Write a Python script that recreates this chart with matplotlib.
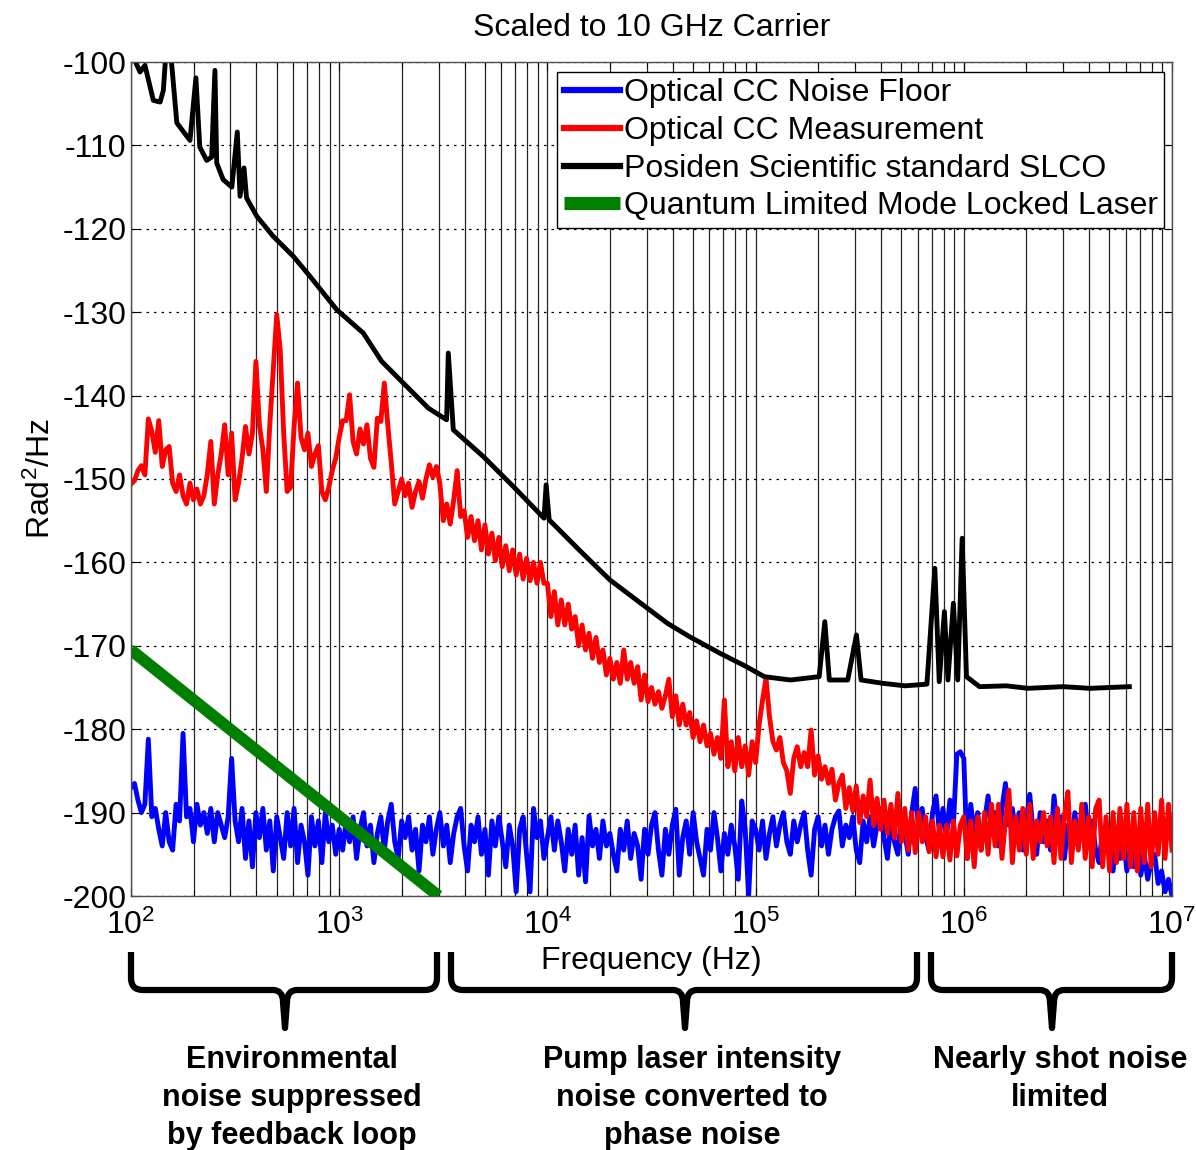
import numpy as np
import matplotlib
matplotlib.use('Agg')
import matplotlib.pyplot as plt
from matplotlib.path import Path
from matplotlib.patches import PathPatch

plt.rcParams['font.family'] = ['Liberation Sans', 'DejaVu Sans']
plt.rcParams['axes.unicode_minus'] = False
plt.rcParams['mathtext.fontset'] = 'custom'
plt.rcParams['mathtext.rm'] = 'Liberation Sans'
plt.rcParams['mathtext.it'] = 'Liberation Sans:italic'

# noise floor, one list per decade (100 Hz .. 10 MHz), dB rad^2/Hz
floor_dec = [
    [-187, -186.5, -188.5, -190, -189, -181.2, -190.5, -189.5, -192, -194,
     -190, -193.5, -194.5, -189, -191, -180.5, -190.5, -189.5, -193.5, -189,
     -191.5, -190, -192.5, -189.5, -193.5, -190, -191.5, -193, -190.5, -183.5,
     -191, -193.5, -189.5, -195.5, -191, -196.5, -190, -193, -189.5, -194.5,
     -191, -197, -190.5, -193, -195.5, -190, -194, -189.5, -196, -191.5,
     -193.5, -197.5, -190.5, -194, -191, -196, -190, -193.5, -191.5, -195],
    [-192, -194.5, -191, -193.5, -190.5, -195.5, -192, -190, -194, -191.5,
     -196, -192.5, -190.5, -194.5, -191, -189, -193.5, -195.5, -191, -193,
     -190.5, -194.5, -192, -197, -191.5, -193.5, -190.5, -195, -192, -190,
     -194, -191.5, -196, -192.5, -190.5, -189.5, -194, -197, -191.5, -193.5,
     -190.5, -195, -192, -197.5, -191, -194, -190.5, -193.5, -196.5, -191.5,
     -194, -199.5, -192, -190.5, -195, -199.5, -189.5, -193, -191, -195.5],
    [-193, -190.5, -194.5, -191, -193.5, -197, -192, -195, -191.5, -197.5,
     -193, -198.3, -190.4, -194, -192, -195.5, -191, -194, -192.5, -195,
     -197, -192, -194.5, -191, -195.5, -192.5, -194, -198, -192, -195,
     -191.5, -190, -194.5, -197.5, -192, -195, -191.5, -189.6, -197.5, -193,
     -191, -195, -190, -193.5, -195.5, -197.5, -192, -194.5, -190, -193,
     -197, -192.5, -195, -191.5, -194, -198, -188.6, -192, -200, -191],
    [-192, -194.5, -191, -195.5, -192.5, -190.5, -194, -191.5, -190, -193.5,
     -195, -191, -193.5, -191.5, -190, -194.5, -197.5, -192, -190.5, -194,
     -191.5, -195, -192, -190.5, -189.8, -194, -191.5, -193, -190.5, -194.5,
     -196, -191, -193.5, -190.5, -194, -191.5, -189.5, -193, -195.5, -191,
     -193.5, -195, -190.5, -192.5, -195, -190, -187.1, -192, -189.5, -193,
     -194.5, -190, -188, -192.5, -189.5, -193, -188.5, -191.5, -183, -182.7],
    [-183.5, -195.5, -189, -192.5, -190, -194.5, -191, -188, -192, -190,
     -194, -189.5, -186.5, -191.5, -189.5, -193, -190, -194.5, -191, -187.8,
     -192.5, -195, -190, -193.5, -191, -194.5, -188, -192, -190.5, -195.5,
     -191.5, -193.5, -190, -194, -191.5, -189, -193, -191, -194.5, -196,
     -192, -194.5, -192.5, -197, -193.5, -195.5, -193, -197, -194.5, -196.5,
     -192.5, -197.5, -195, -198, -196, -195, -198.5, -197, -199.5, -198,
     -200],
]

# measurement, same decade layout
meas_dec = [
    [-150.6, -150.2, -149, -148.4, -149.5, -142.8, -144.3, -146.8, -143, -148.5,
     -146.5, -146.1, -150.5, -151.5, -149.5, -152, -153, -150.5, -152.5, -151.2,
     -153, -152, -149.4, -145.5, -153, -149.5, -147, -143.5, -149.5, -144.5,
     -152.5, -150.5, -147.5, -143.7, -147, -144.5, -135.9, -143.5, -146.5, -151.5,
     -143.5, -137, -130.3, -134.5, -144.5, -151.5, -151, -143.7, -138.5, -145,
     -146.5, -144.5, -148.5, -147, -146, -151.5, -152.5, -151, -149, -147.5],
    [-145, -143, -143, -139.9, -145.5, -147, -144, -145.8, -143.5, -147.5,
     -148.6, -142.7, -143.1, -138.5, -143.5, -148, -153, -151.5, -150, -152,
     -150.5, -153.4, -151.5, -150.3, -152.3, -150, -148.3, -149.8, -148.5, -150.5,
     -155, -153, -155.4, -152.5, -149, -154.5, -153.8, -157, -154.5, -157.4,
     -155, -158.5, -155.5, -159, -156.5, -159.8, -157, -160.5, -158, -161,
     -158.5, -161.5, -159, -162, -159.5, -162.2, -160, -162.5, -160, -162.5],
    [-162.5, -166.5, -163.5, -167.5, -164.5, -167.5, -165, -168, -166.5, -170,
     -167.5, -170.5, -168.5, -171.5, -169, -172, -170.5, -173.5, -171.5, -174,
     -172, -174.5, -170.5, -174, -172, -174.5, -172.5, -176.5, -173.5, -176.7,
     -175, -177, -175.5, -177.5, -176, -174, -178.5, -176, -179.5, -177,
     -179.5, -178, -181, -179, -181.5, -179.5, -182, -180.5, -183, -181,
     -183.5, -176.5, -184.5, -181.5, -185, -181, -184.5, -182, -185.5, -181.5],
    [-184, -179.5, -176.5, -173.9, -178.5, -181.5, -182.5, -181, -184, -185,
     -187.7, -183.5, -182.1, -184.5, -182.8, -184.5, -180.1, -185.5, -183.2, -186,
     -184.5, -186.5, -184.8, -188.5, -186.5, -185.5, -189.5, -187, -189.8, -186.8,
     -191.2, -188, -190.5, -186.1, -191.5, -188.3, -192, -188.5, -192.5, -189,
     -193, -187.7, -193.5, -189.5, -194.5, -190, -194.8, -190, -193.5, -190.5,
     -194.7, -191, -195.3, -191.5, -195.3, -191.5, -195.7, -191, -195.2, -191.5],
    [-190.5, -195.5, -191, -196.5, -190.5, -194.5, -190, -195, -189, -194,
     -189, -195.5, -191, -187.3, -196, -190.5, -194.5, -189.5, -195, -189,
     -195.5, -191, -193.5, -190, -194, -190.5, -196, -189.5, -195.5, -190.5,
     -187.5, -196, -191, -194.5, -189, -195.5, -190.5, -196.5, -189.5, -188.5,
     -196.5, -190.5, -197, -190, -196, -189.5, -195.5, -189, -196.5, -190,
     -197, -189.5, -196, -189, -196.5, -190, -195, -188.5, -195.5, -189,
     -194.5],
]

slco_f = [100, 106, 110.5, 116.7, 128, 138, 143, 148, 154, 166,
          192, 205, 214, 231, 244, 253, 258, 277, 305, 324,
          334, 349, 359, 402, 482, 602, 724, 973, 1305, 1600,
          2032, 2680, 3280, 3342, 3532, 4920, 6860, 9630, 9860, 10200,
          14200, 19960, 28100, 37700, 48100, 67500, 90300, 110000, 147000, 202000,
          215000, 226000, 277000, 305000, 321000, 409000, 522000, 665000, 726000, 762000,
          807000, 839000, 891000, 935000, 982000, 1030000, 1190000, 1600000, 2030000, 3000000,
          4030000, 6240000]
slco_v = [-98, -100.2, -101.2, -100.4, -104.6, -104.8, -103.4, -98, -98, -107.3,
          -109.4, -101.9, -110.2, -111.8, -111.4, -101, -112.1, -114.1, -115, -108.4,
          -116.1, -112.7, -116.3, -118.5, -120.9, -123.3, -125.7, -129.7, -132.5, -135.9,
          -138.5, -141.5, -142.9, -134.9, -144.1, -147.3, -150.9, -154.7, -150.7, -154.9,
          -158.5, -162.1, -164.9, -167.3, -168.9, -170.9, -172.5, -173.7, -174.1, -173.7,
          -167.1, -174.1, -174.1, -168.7, -174.1, -174.5, -174.8, -174.6, -160.7, -174.3,
          -165.9, -174.1, -164.9, -174.1, -157.1, -173.7, -174.9, -174.8, -175.1, -174.9,
          -175.1, -174.9]

mll_f = [100, 3000]
mll_v = [-170.5, -200.0]


def decades_to_xy(decs):
    f, v = [], []
    for k, vals in enumerate(decs):
        last = k == len(decs) - 1
        f.extend(np.logspace(2 + k, 3 + k, len(vals), endpoint=last))
        v.extend(vals)
    return np.array(f), np.array(v)


floor_f, floor_v = decades_to_xy(floor_dec)
meas_f, meas_v = decades_to_xy(meas_dec)

W, H = 1196, 1150
fig = plt.figure(figsize=(W / 100, H / 100), dpi=100)
ax = fig.add_axes([131 / W, 1 - 896 / H, 1041 / W, 834 / H])

ax.semilogx(floor_f, floor_v, color='#0000ff', lw=3.5, label='Optical CC Noise Floor')
ax.semilogx(meas_f, meas_v, color='#ff0000', lw=3.5, label='Optical CC Measurement')
ax.semilogx(slco_f, slco_v, color='black', lw=3.5, label='Posiden Scientific standard SLCO')
ax.semilogx(mll_f, mll_v, color='#007f00', lw=8.5, solid_capstyle='butt',
            label='Quantum Limited Mode Locked Laser')

ax.set_xlim(1e2, 1e7)
ax.set_ylim(-200, -100)
ax.set_yticks(np.arange(-200, -99, 10))
ax.set_axisbelow(True)
ax.grid(which='both', axis='x', linestyle='-', color='0.15', linewidth=0.9)
ax.grid(which='major', axis='y', linestyle=(0, (2, 4)), color='black', linewidth=0.9)
ax.tick_params(which='both', direction='in', top=True, right=True, labelsize=23)
ax.tick_params(axis='x', which='major', pad=10, length=6)
ax.tick_params(axis='x', which='minor', length=4)
ax.tick_params(axis='y', length=6)
for s in ax.spines.values():
    s.set_color('0.3')
    s.set_linewidth(1)

ax.set_title('Scaled to 10 GHz Carrier', fontsize=23, pad=19)
ax.set_xlabel('Frequency (Hz)', fontsize=23)
ax.xaxis.set_label_coords(0.5, -0.060)
ax.set_ylabel('Rad$^2$/Hz', fontsize=23)
ax.yaxis.set_label_coords(-0.071, 0.5)

leg = ax.legend(loc='upper right', bbox_to_anchor=(0.9923, 0.9880), borderaxespad=0,
                fontsize=23, handlelength=1.75, handletextpad=0.12, labelspacing=0.24,
                borderpad=0.2, fancybox=False, framealpha=1, edgecolor='black')
leg.get_frame().set_linewidth(1)
for h, w in zip(leg.legend_handles, [4.5, 4.5, 4.5, 9.5]):
    h.set_linewidth(w)


# curly brackets under the axis, in pixel coordinates (y down)
def brace(left, right, tip, top=952, bar=990, tipb=1028, r=12):
    pts = [(left, top), (left, bar - r), (left, bar), (left + r, bar),
           (tip - r, bar), (tip - 2, bar), (tip - 2, bar + r), (tip, tipb),
           (tip + 2, bar + r), (tip + 2, bar), (tip + r, bar),
           (right - r, bar), (right, bar), (right, bar - r), (right, top)]
    codes = [Path.MOVETO, Path.LINETO, Path.CURVE3, Path.CURVE3,
             Path.LINETO, Path.CURVE3, Path.CURVE3, Path.LINETO,
             Path.LINETO, Path.CURVE3, Path.CURVE3,
             Path.LINETO, Path.CURVE3, Path.CURVE3, Path.LINETO]
    pts = [(x / W, 1 - y / H) for x, y in pts]
    fig.patches.append(PathPatch(Path(pts, codes), transform=fig.transFigure,
                                 fill=False, lw=4.5, edgecolor='black',
                                 joinstyle='round', capstyle='butt'))


brace(131, 437, 285)
brace(451, 917, 685)
brace(931, 1172, 1052)

note_font = dict(fontsize=22, fontweight='bold', ha='center', va='top',
                 family=['Liberation Sans Narrow', 'Liberation Sans'], linespacing=1.35)
fig.text(292 / W, 1 - 1045 / H, 'Environmental\nnoise suppressed\nby feedback loop', **note_font)
fig.text(692 / W, 1 - 1045 / H, 'Pump laser intensity\nnoise converted to\nphase noise', **note_font)
fig.text(1060 / W, 1 - 1045 / H, 'Nearly shot noise\nlimited', **note_font)

fig.savefig('out.png', dpi=100)
